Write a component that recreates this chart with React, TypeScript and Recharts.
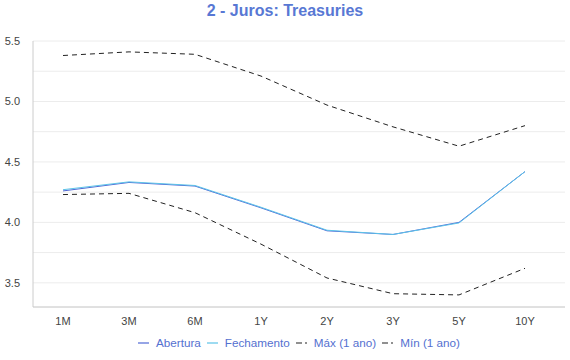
import { LineChart, Line, XAxis, YAxis, CartesianGrid, Legend } from "recharts";

const MATURITIES = ["1M", "3M", "6M", "1Y", "2Y", "3Y", "5Y", "10Y"];
const ABERTURA = [4.26, 4.33, 4.3, 4.12, 3.93, 3.9, 4.0, 4.42];
const FECHAMENTO = [4.27, 4.335, 4.305, 4.125, 3.935, 3.9, 3.995, 4.42];
const MAX_1A = [5.38, 5.41, 5.39, 5.21, 4.97, 4.79, 4.63, 4.8];
const MIN_1A = [4.23, 4.24, 4.08, 3.82, 3.54, 3.41, 3.4, 3.62];
const Y_TICKS = [3.5, 3.75, 4, 4.25, 4.5, 4.75, 5, 5.25, 5.5];

const data = MATURITIES.map((m, i) => ({
  name: m,
  abertura: ABERTURA[i],
  fechamento: FECHAMENTO[i],
  max: MAX_1A[i],
  min: MIN_1A[i],
}));

const FONT = "'Liberation Sans', Arial, Helvetica, sans-serif";

// legend drawn by hand so the icons stay thin like the original
function ChartLegend({ payload }: any) {
  return (
    <div
      style={{
        display: "flex",
        justifyContent: "center",
        alignItems: "center",
        fontFamily: FONT,
        fontSize: 11.7,
        paddingLeft: 33,
        paddingTop: 7,
      }}
    >
      {(payload || []).map((p: any, i: number) => (
        <div key={i} style={{ display: "flex", alignItems: "center", marginLeft: i === 0 ? 0 : 6 }}>
          <svg width={11} height={4} style={{ marginRight: 7 }}>
            <line
              x1={0}
              y1={2}
              x2={11}
              y2={2}
              stroke={p.color}
              strokeWidth={1.2}
              strokeDasharray={p.payload?.strokeDasharray ? "6 3" : undefined}
            />
          </svg>
          <span style={{ color: "#5470d0" }}>{p.value}</span>
        </div>
      ))}
    </div>
  );
}

export default function App() {
  return (
    <div style={{ position: "absolute", left: 0, top: 0, width: 570, height: 360, background: "#fff", fontFamily: FONT }}>
      <div
        style={{
          position: "absolute",
          top: 2,
          width: 570,
          textAlign: "center",
          fontSize: 16,
          fontWeight: "bold",
          color: "#5878d4",
        }}
      >
        2 - Juros: Treasuries
      </div>
      <LineChart
        width={570}
        height={360}
        data={data}
        margin={{ top: 41, right: 5, bottom: 1, left: 0 }}
      >
        <CartesianGrid vertical={false} stroke="#ececec" />
        <XAxis
          dataKey="name"
          tickLine={false}
          axisLine={{ stroke: "#ccc" }}
          tick={{ fill: "#444", fontSize: 11, fontFamily: FONT }}
          tickMargin={4}
          padding={{ left: 30, right: 40 }}
          height={22}
        />
        <YAxis
          domain={[3.3, 5.5]}
          ticks={Y_TICKS}
          interval={0}
          width={33}
          tickLine={false}
          tickSize={0}
          tickMargin={13}
          axisLine={{ stroke: "#ccc" }}
          tick={{ fill: "#444", fontSize: 11, fontFamily: FONT }}
          tickFormatter={(v: number) => (Math.abs(v * 2 - Math.round(v * 2)) < 1e-6 ? v.toFixed(1) : "")}
        />
        <Legend verticalAlign="bottom" height={30} content={<ChartLegend />} />
        <Line
          name="Abertura"
          dataKey="abertura"
          stroke="#4f68d6"
          strokeWidth={1}
          dot={false}
          isAnimationActive={false}
        />
        <Line
          name="Fechamento"
          dataKey="fechamento"
          stroke="#5cc3e8"
          strokeWidth={1}
          dot={false}
          isAnimationActive={false}
        />
        <Line
          name="Máx (1 ano)"
          dataKey="max"
          stroke="#222"
          strokeWidth={1}
          strokeDasharray="5 4"
          dot={false}
          isAnimationActive={false}
        />
        <Line
          name="Mín (1 ano)"
          dataKey="min"
          stroke="#222"
          strokeWidth={1}
          strokeDasharray="5 4"
          dot={false}
          isAnimationActive={false}
        />
      </LineChart>
    </div>
  );
}
